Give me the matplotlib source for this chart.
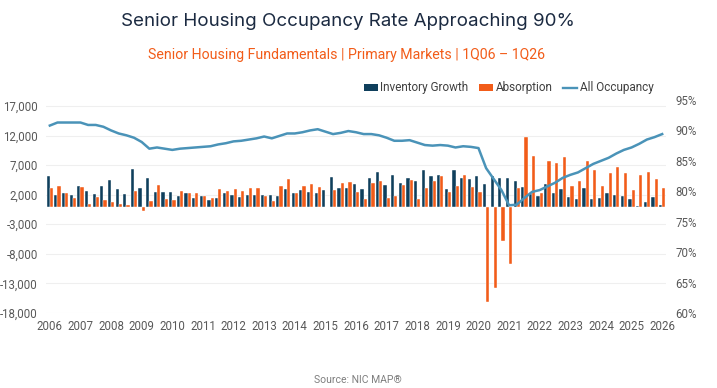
import matplotlib
matplotlib.use('Agg')
import matplotlib.pyplot as plt
import numpy as np
from matplotlib.patches import Patch
from matplotlib.lines import Line2D
from matplotlib import font_manager

# ---------------- data (1Q06 .. 1Q26, quarterly) ----------------
year_labels = [str(y) for y in range(2006, 2027)]

inventory_growth = [
    5200, 1900, 2200, 1900, 3400, 2600, 2100, 3500, 4400, 2900, 2100, 6400,
    3100, 4900, 2500, 2500, 2500, 1800, 2200, 1400, 1700, 1100, 1500, 2200,
    1900, 1600, 1900, 1900, 2000, 1900, 1800, 2900, 2300, 2800, 2400, 2300,
    2800, 5000, 3200, 3200, 3800, 3000, 4900, 5800, 3700, 5300, 3900, 4900,
    4300, 6100, 5200, 5400, 3000, 6200, 4900, 4600, 5200, 3800, 5100, 4800,
    4800, 4300, 3300, 2100, 1800, 3800, 2300, 2900, 1600, 1200, 3100, 1200,
    1400, 2300, 2000, 1800, 1200, 100, 700, 1600, 300]

absorption = [
    3200, 3500, 2200, 1400, 3300, 500, 1600, 1050, 700, 400, 200, 2700,
    -700, 900, 3700, 1300, 1100, 2700, 2200, 2200, 1800, 1500, 2900, 2600,
    2900, 2700, 3100, 3100, 1700, 900, 3500, 4600, 2200, 3400, 3800, 3300,
    -100, 2800, 4000, 4200, 2400, 1300, 3900, 4300, 1500, 1700, 3600, 4400,
    1300, 3100, 4300, 5100, 2400, 3400, 5300, 3300, 2400, -16100, -13700, -5800,
    -9700, 3200, 11700, 8500, 2200, 7700, 7400, 8300, 3400, 4300, 7700, 6100,
    3400, 5600, 6700, 5700, 2800, 5300, 5800, 4700, 3100]

occupancy = [
    90.8, 91.3, 91.3, 91.3, 91.3, 90.9, 90.9, 90.6, 90.0, 89.5, 89.2, 88.8,
    88.1, 87.0, 87.2, 87.0, 86.8, 87.0, 87.1, 87.2, 87.3, 87.4, 87.7, 87.9,
    88.2, 88.3, 88.5, 88.7, 89.0, 88.7, 89.1, 89.5, 89.5, 89.7, 90.0, 90.2,
    89.8, 89.4, 89.6, 89.9, 89.7, 89.4, 89.4, 89.2, 88.8, 88.3, 88.3, 88.4,
    88.0, 87.6, 87.5, 87.6, 87.5, 87.2, 87.4, 87.3, 87.1, 83.8, 82.0, 80.2,
    77.7, 77.8, 78.9, 79.9, 80.2, 80.8, 81.4, 82.2, 82.7, 83.1, 83.8, 84.5,
    85.0, 85.5, 86.2, 86.8, 87.2, 87.8, 88.5, 88.9, 89.4]

left_ticks = [-18000, -13000, -8000, -3000, 2000, 7000, 12000, 17000]
right_ticks = [60, 65, 70, 75, 80, 85, 90, 95]

# ---------------- fonts ----------------
def pick(*names):
    for n in names:
        try:
            font_manager.findfont(font_manager.FontProperties(family=n),
                                  fallback_to_default=False)
            return n
        except Exception:
            continue
    return 'DejaVu Sans'

title_font = pick('Inter', 'Roboto', 'DejaVu Sans')
sub_font = pick('Roboto', 'Inter', 'DejaVu Sans')
tick_font = pick('Liberation Sans Narrow', 'Roboto', 'Liberation Sans')

NAVY = '#0f3f5c'
ORANGE = '#f25c19'
LINE = '#4a93b8'
GRAY = '#595959'

W, H = 717, 388
fig = plt.figure(figsize=(W / 100, H / 100), dpi=100)
fig.patch.set_facecolor('white')

ax = fig.add_axes([46 / W, (H - 313) / H, 620 / W, 213 / H])
x = np.arange(len(inventory_growth))
bw = 0.42
ax.bar(x - bw / 2, inventory_growth, width=bw, color=NAVY,
       edgecolor='white', linewidth=0.3, zorder=2)
ax.bar(x + bw / 2, absorption, width=bw, color=ORANGE,
       edgecolor='white', linewidth=0.3, zorder=2)

ax.set_xlim(-0.5, len(x) - 0.5)
ax.set_ylim(-18000, 18000)
ax.set_yticks(left_ticks)
ax.set_yticklabels([f'{v:,}' for v in left_ticks])
ax.set_xticks(np.arange(0, len(x), 4))
ax.set_xticklabels(year_labels)
ax.grid(axis='y', color='#efefef', linewidth=0.8, zorder=0)
ax.set_axisbelow(True)
for s in ax.spines.values():
    s.set_visible(False)
ax.tick_params(axis='both', length=0, colors=GRAY, labelsize=8.3)
ax.tick_params(axis='y', pad=6)
ax.tick_params(axis='x', pad=5)
for lab in ax.get_xticklabels() + ax.get_yticklabels():
    lab.set_fontfamily(tick_font)

ax2 = ax.twinx()
ax2.plot(x, occupancy, color=LINE, linewidth=1.8, zorder=3)
ax2.set_ylim(60, 95)
ax2.set_yticks(right_ticks)
ax2.set_yticklabels([f'{v}%' for v in right_ticks])
for s in ax2.spines.values():
    s.set_visible(False)
ax2.tick_params(axis='y', length=0, colors=GRAY, labelsize=8.3, pad=7)
for lab in ax2.get_yticklabels():
    lab.set_fontfamily(tick_font)

fig.text(348 / W, 1 - 22 / H, 'Senior Housing Occupancy Rate Approaching 90%',
         ha='center', va='center', fontsize=13.5, color='#1b2a41',
         family=title_font)
fig.text(346 / W, 1 - 55 / H,
         'Senior Housing Fundamentals | Primary Markets | 1Q06 \u2013 1Q26',
         ha='center', va='center', fontsize=10.2, color=ORANGE, family=sub_font)

handles = [Patch(facecolor=NAVY, edgecolor='none'),
           Patch(facecolor=ORANGE, edgecolor='none'),
           Line2D([0], [0], color=LINE, linewidth=1.7)]
leg = fig.legend(handles, ['Inventory Growth', 'Absorption', 'All Occupancy'],
                 loc='center right', bbox_to_anchor=(664 / W, 1 - 88 / H),
                 ncol=3, frameon=False, handlelength=1.2, handleheight=0.55,
                 handletextpad=0.2, columnspacing=0.9,
                 prop={'family': tick_font, 'size': 8.5})
for t in leg.get_texts():
    t.set_color('#404040')

fig.text(358 / W, 1 - 380 / H, 'Source: NIC MAP\u00ae', ha='center',
         va='center', fontsize=7.5, color='#7f7f7f', family=tick_font)

fig.savefig('out.png', dpi=100, facecolor='white')
